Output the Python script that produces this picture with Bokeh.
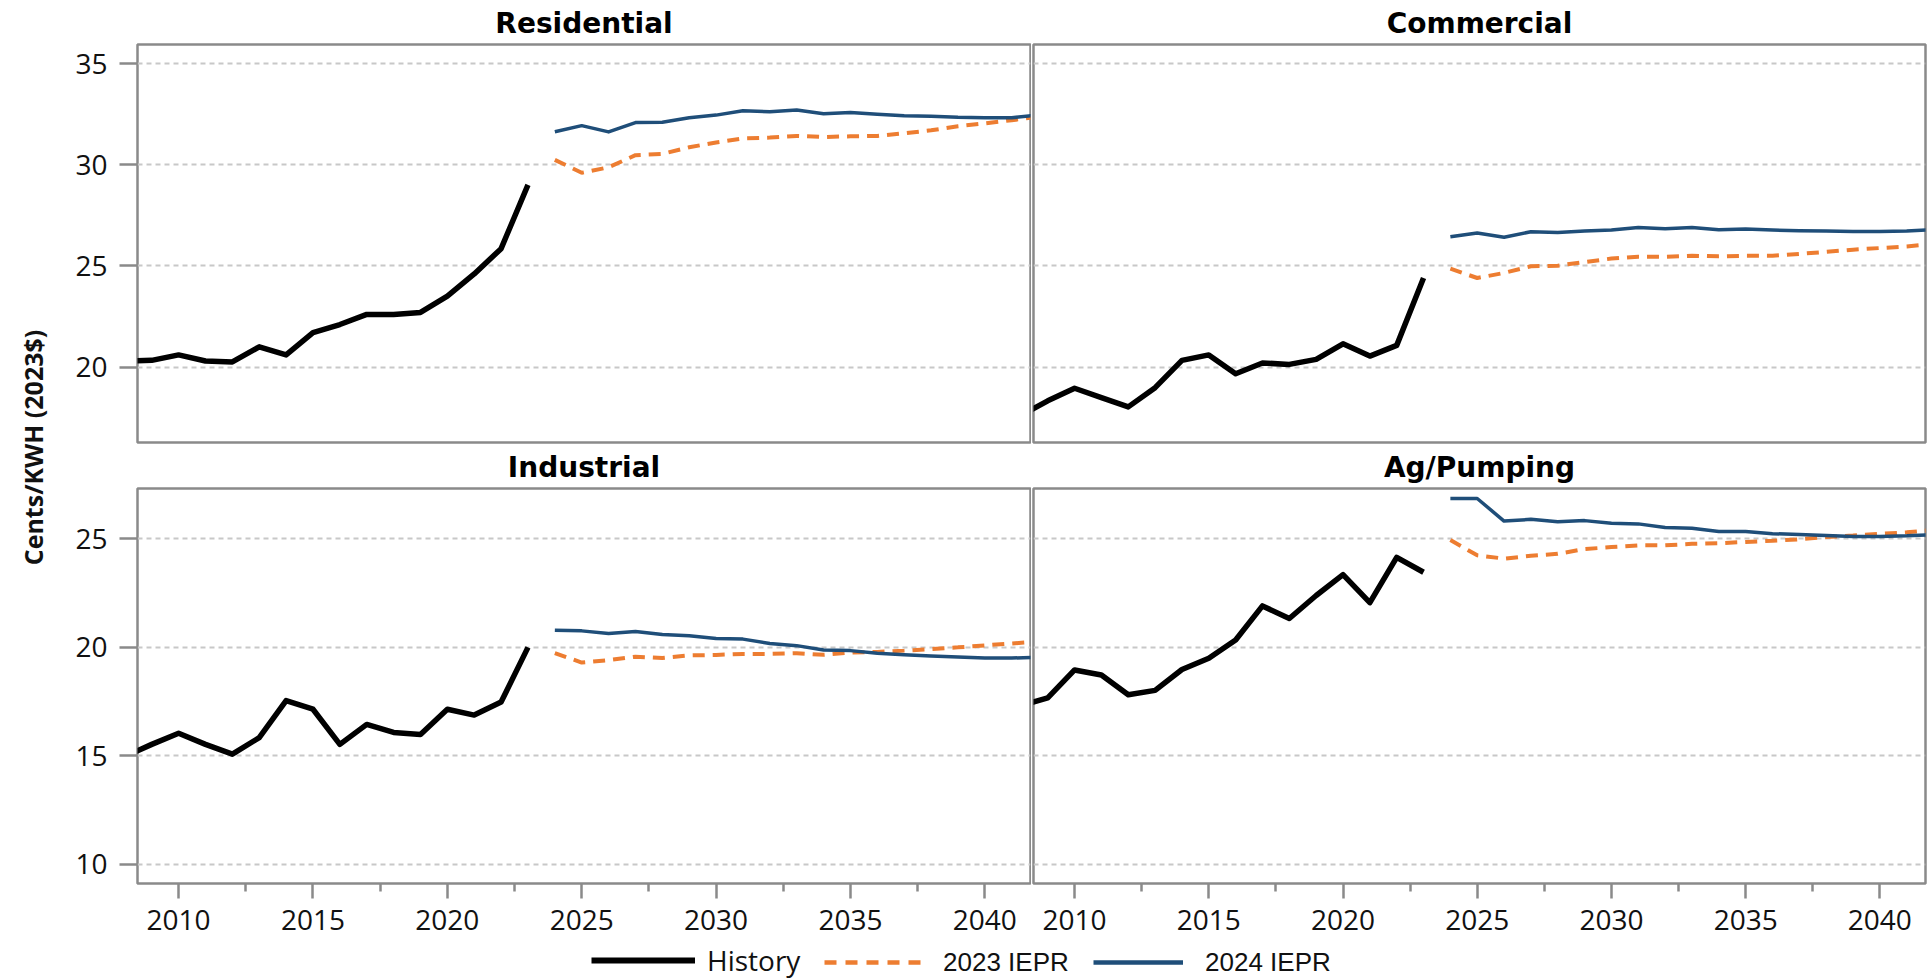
import math
from bokeh.plotting import figure
from bokeh.models import Range1d, FixedTicker, Label, Legend, LegendItem
from bokeh.layouts import row, column
from bokeh.embed import file_html
from bokeh.resources import INLINE

# ---------------- data ----------------
hist_years = list(range(2008, 2024))
fcst_years = list(range(2024, 2043))

res_hist = [20.30, 20.33, 20.60, 20.30, 20.25, 21.00, 20.60, 21.70, 22.10, 22.60, 22.60, 22.70, 23.50, 24.60, 25.85, 29.00]
res_2023 = [30.24, 29.60, 29.87, 30.47, 30.53, 30.86, 31.10, 31.30, 31.34, 31.42, 31.37, 31.40, 31.42, 31.55, 31.70, 31.90, 32.04, 32.20, 32.37]
res_2024 = [31.63, 31.93, 31.62, 32.08, 32.10, 32.32, 32.45, 32.67, 32.62, 32.70, 32.52, 32.58, 32.49, 32.42, 32.39, 32.34, 32.32, 32.32, 32.45]

com_hist = [17.60, 18.33, 18.95, 18.49, 18.03, 18.98, 20.33, 20.60, 19.67, 20.20, 20.13, 20.38, 21.15, 20.54, 21.07, 24.40]
com_2023 = [24.86, 24.40, 24.65, 24.98, 25.01, 25.19, 25.36, 25.45, 25.45, 25.50, 25.47, 25.50, 25.50, 25.59, 25.69, 25.80, 25.88, 25.96, 26.08]
com_2024 = [26.44, 26.62, 26.41, 26.69, 26.65, 26.72, 26.77, 26.90, 26.84, 26.90, 26.79, 26.82, 26.77, 26.74, 26.72, 26.70, 26.70, 26.72, 26.80]

ind_hist = [14.98, 15.53, 16.04, 15.53, 15.08, 15.84, 17.55, 17.15, 15.53, 16.45, 16.08, 15.99, 17.15, 16.88, 17.48, 20.00]
ind_2023 = [19.74, 19.30, 19.41, 19.57, 19.51, 19.63, 19.65, 19.70, 19.70, 19.73, 19.66, 19.76, 19.79, 19.85, 19.92, 20.00, 20.09, 20.18, 20.27]
ind_2024 = [20.79, 20.76, 20.64, 20.73, 20.59, 20.53, 20.41, 20.38, 20.18, 20.08, 19.88, 19.85, 19.73, 19.66, 19.60, 19.56, 19.51, 19.51, 19.54]

ag_hist = [17.32, 17.67, 18.96, 18.73, 17.82, 18.02, 18.98, 19.50, 20.34, 21.91, 21.33, 22.39, 23.35, 22.06, 24.15, 23.46]
ag_2023 = [24.95, 24.24, 24.09, 24.22, 24.31, 24.53, 24.62, 24.70, 24.70, 24.77, 24.80, 24.86, 24.91, 24.98, 25.08, 25.15, 25.23, 25.30, 25.41]
ag_2024 = [26.86, 26.86, 25.82, 25.90, 25.79, 25.84, 25.72, 25.69, 25.52, 25.49, 25.34, 25.34, 25.24, 25.20, 25.15, 25.11, 25.11, 25.14, 25.20]

panel_titles = ["Residential", "Commercial", "Industrial", "Ag/Pumping"]
series_names = ["History", "2023 IEPR", "2024 IEPR"]
x_major = [2010, 2015, 2020, 2025, 2030, 2035, 2040]
x_minor = [2012.5, 2017.5, 2022.5, 2027.5, 2032.5, 2037.5]
top_yticks = [20, 25, 30, 35]
bot_yticks = [10, 15, 20, 25]
y_label = "Cents/KWH (2023$)"

# ---------------- style ----------------
HIST_C = "#000000"
C23 = "#ED7D31"
C24 = "#1F4E79"
FRAME_C = "#8a8a8a"
GRID_C = "#c8c8c8"
XR = (2008.47, 2041.70)


def make_panel(title, hist, f23, f24, yr, yticks, width, height, bl, br, bt, bb, show_y, show_x):
    p = figure(width=width, height=height, x_range=Range1d(*XR), y_range=Range1d(*yr),
               output_backend="svg", toolbar_location=None, title=title,
               min_border_left=bl, min_border_right=br, min_border_top=bt, min_border_bottom=bb)
    p.title.align = "center"
    p.title.text_font = "DejaVu Sans"
    p.title.text_font_style = "bold"
    p.title.text_font_size = "28px"
    p.title.text_color = "#000000"
    p.title.standoff = 9
    p.outline_line_color = FRAME_C
    p.outline_line_width = 2.5
    p.background_fill_color = "white"
    p.border_fill_color = "white"

    p.xgrid.visible = False
    p.ygrid.ticker = FixedTicker(ticks=yticks)
    p.ygrid.grid_line_color = GRID_C
    p.ygrid.grid_line_width = 2
    p.ygrid.grid_line_dash = "5 4"

    p.xaxis.ticker = FixedTicker(ticks=x_major, minor_ticks=x_minor)
    p.xaxis.axis_line_color = None
    p.xaxis.major_tick_out = 15
    p.xaxis.major_tick_in = 0
    p.xaxis.minor_tick_out = 8
    p.xaxis.minor_tick_in = 0
    p.xaxis.major_tick_line_color = FRAME_C
    p.xaxis.minor_tick_line_color = FRAME_C
    p.xaxis.major_tick_line_width = 2.5
    p.xaxis.minor_tick_line_width = 2.5
    p.xaxis.major_label_text_font = "Open Sans"
    p.xaxis.major_label_text_font_size = "28px"
    p.xaxis.major_label_text_color = "#111111"
    p.xaxis.major_label_standoff = 11
    p.xaxis.visible = show_x

    p.yaxis.ticker = FixedTicker(ticks=yticks)
    p.yaxis.axis_line_color = None
    p.yaxis.major_tick_out = 18
    p.yaxis.major_tick_in = 0
    p.yaxis.minor_tick_out = 0
    p.yaxis.minor_tick_in = 0
    p.yaxis.major_tick_line_color = FRAME_C
    p.yaxis.major_tick_line_width = 2.5
    p.yaxis.major_label_text_font = "Open Sans"
    p.yaxis.major_label_text_font_size = "28px"
    p.yaxis.major_label_text_color = "#111111"
    p.yaxis.major_label_standoff = 12
    p.yaxis.visible = show_y

    p.line(hist_years, hist, line_color=HIST_C, line_width=5.5, line_join="round")
    p.line(fcst_years, f23, line_color=C23, line_width=4, line_dash="12 8")
    p.line(fcst_years, f24, line_color=C24, line_width=3.5, line_join="round")
    return p


W_LAB = 68
W_L, W_R = 963, 896
H_T, H_B = 444, 497
TOP_Y = (16.27, 35.94)
BOT_Y = (9.12, 27.32)

p_res = make_panel(panel_titles[0], res_hist, res_2023, res_2024, TOP_Y, top_yticks, W_L, H_T, 69, 1, 43, 2, True, False)
p_com = make_panel(panel_titles[1], com_hist, com_2023, com_2024, TOP_Y, top_yticks, W_R, H_T, 2, 2, 43, 2, False, False)
p_ind = make_panel(panel_titles[2], ind_hist, ind_2023, ind_2024, BOT_Y, bot_yticks, W_L, H_B, 69, 1, 41, 58, True, True)
p_ag = make_panel(panel_titles[3], ag_hist, ag_2023, ag_2024, BOT_Y, bot_yticks, W_R, H_B, 2, 2, 41, 58, False, True)

# y-axis title strip
H_ALL = H_T + H_B
p_lab = figure(width=W_LAB, height=H_ALL, x_range=Range1d(0, 1), y_range=Range1d(0, 1),
               x_axis_type=None, y_axis_type=None, output_backend="svg", toolbar_location=None, min_border=0)
p_lab.outline_line_color = None
p_lab.grid.visible = False
p_lab.add_layout(Label(x=32, y=H_ALL - 447, x_units="screen", y_units="screen", text=y_label,
                       angle=math.pi / 2, text_align="center", text_baseline="middle",
                       text_font="Open Sans", text_font_style="bold", text_font_size="25px",
                       text_color="#111111"))

# legend strip
LEG_W, LEG_H = W_LAB + W_L + W_R, 979 - H_ALL
p_leg = figure(width=LEG_W, height=LEG_H, x_range=Range1d(0, 1), y_range=Range1d(0, 1),
               x_axis_type=None, y_axis_type=None, output_backend="svg", toolbar_location=None, min_border=0)
p_leg.outline_line_color = None
p_leg.grid.visible = False
nan = float("nan")
r_h = p_leg.line(x=[nan, nan], y=[nan, nan], line_color=HIST_C, line_width=6)
r_23 = p_leg.line(x=[nan, nan], y=[nan, nan], line_color=C23, line_width=4.5, line_dash="12 9")
r_24 = p_leg.line(x=[nan, nan], y=[nan, nan], line_color=C24, line_width=4.5)

leg_specs = [
    (r_h, series_names[0], "Open Sans", "28px", 104, 12, 591),
    (r_23, series_names[1], "Liberation Sans", "26px", 98, 21, 824),
    (r_24, series_names[2], "Liberation Sans", "26px", 90, 22, 1093),
]
for r, lab, font, size, gw, so, x0 in leg_specs:
    lg = Legend(items=[LegendItem(label=lab, renderers=[r])], location=(x0, 0),
                orientation="horizontal", glyph_width=gw, glyph_height=34, label_height=34,
                label_standoff=so, label_text_font=font, label_text_font_size=size,
                label_text_color="#111111", padding=0, margin=0, spacing=0,
                border_line_color=None, background_fill_alpha=0)
    p_leg.add_layout(lg)

layout = column(row(p_lab, column(row(p_res, p_com), row(p_ind, p_ag))), p_leg)

open("out.html", "w").write(file_html(layout, INLINE))
